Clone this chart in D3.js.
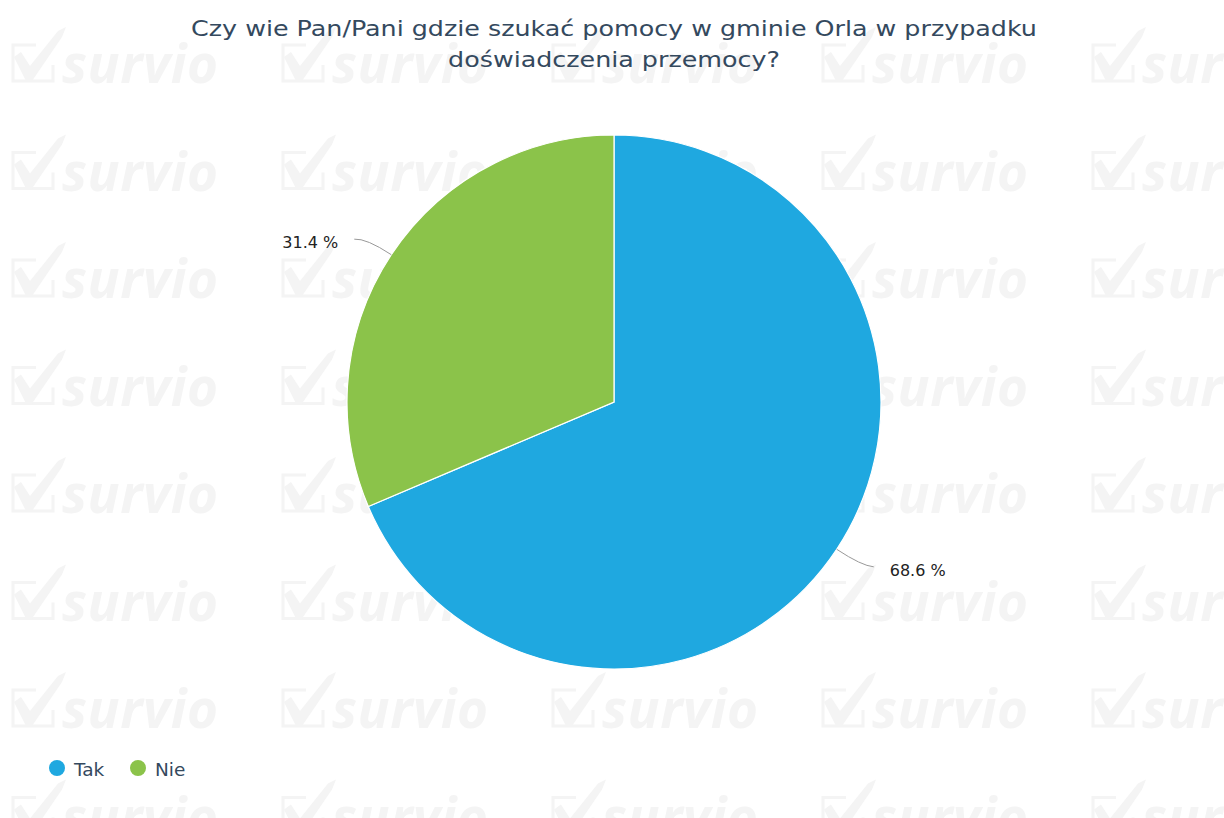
<!DOCTYPE html>
<html lang="pl">
<head>
    <meta charset="UTF-8">
    <title>Pie chart</title>
    <script src="https://d3js.org/d3.v7.min.js"></script>
    <style>
        body { margin: 0; background: #fff; }
        text { font-family: "DejaVu Sans", sans-serif; }
        .title { font-size: 21.5px; fill: #34495e; }
        .label { font-size: 16px; fill: #222; }
        .legend { font-size: 18.5px; fill: #34495e; }
        .mark { fill: #f4f4f4; font-family: "Open Sans", sans-serif; font-size: 53px; font-weight: bold; font-style: italic; }
    </style>
</head>
<body>
    <svg width="1224" height="818"></svg>
    <script>
        const categories = ["Tak", "Nie"];
        const values = [68.6, 31.4];
        const colors = ["#1fa8e0", "#8bc34a"];
        const titleLines = ["Czy wie Pan/Pani gdzie szukać pomocy w gminie Orla w przypadku",
                            "doświadczenia przemocy?"];

        const svg = d3.select("svg"),
              width = +svg.attr("width"),
              height = +svg.attr("height");

        // watermark grid
        const wm = svg.append("g");
        const cols = d3.range(10, width, 270),
              rows = d3.range(83, height + 60, 107.5);
        rows.forEach(y => cols.forEach(x => {
            const g = wm.append("g").attr("transform", `translate(${x},${y})`);
            g.append("path")
             .attr("d", "M26,-38 H3 V-2 H43 V-18")
             .attr("fill", "none").attr("stroke", "#f4f4f4").attr("stroke-width", 3);
            g.append("path")
             .attr("d", "M4,-26 L11,-31 L20,-17 L48,-52 L56,-56 L52,-46 L22,-2 L16,-2 Z")
             .attr("fill", "#f4f4f4");
            g.append("text").attr("class", "mark").attr("x", 52).attr("y", 0)
             .attr("textLength", 156).text("survio");
        }));

        // title (glyphs a bit wider than DejaVu, so stretch horizontally)
        svg.append("text").attr("class", "title")
           .attr("text-anchor", "middle")
           .attr("transform", "translate(614,0) scale(1.18,1)")
           .selectAll("tspan").data(titleLines).join("tspan")
           .attr("x", 0).attr("y", (d, i) => 36 + i * 31)
           .text(d => d);

        // pie
        const cx = 614, cy = 402, r = 267;
        const pie = d3.pie().sort(null).value(d => d)(values);
        const arc = d3.arc().innerRadius(0).outerRadius(r);
        const g = svg.append("g").attr("transform", `translate(${cx},${cy})`);

        g.selectAll("path.slice").data(pie).join("path")
         .attr("class", "slice")
         .attr("d", arc)
         .attr("fill", (d, i) => colors[i])
         .attr("stroke", "#fff").attr("stroke-width", 1.2);

        // labels with connectors
        pie.forEach((d, i) => {
            const a = (d.startAngle + d.endAngle) / 2;
            const sx = Math.sin(a), sy = -Math.cos(a);
            const right = sx > 0 ? 1 : -1;
            const p0 = [r * sx, r * sy],
                  p1 = [(r + 30) * sx, (r + 30) * sy],
                  p2 = [p1[0] + right * 12, p1[1] + 1];
            g.append("path")
             .attr("d", `M${p0}Q${p1} ${p2}`)
             .attr("fill", "none").attr("stroke", "#999").attr("stroke-width", 1);
            g.append("text").attr("class", "label")
             .attr("x", p2[0] + right * 16).attr("y", p2[1] + 9)
             .attr("text-anchor", right > 0 ? "start" : "end")
             .text(values[i].toFixed(1) + " %");
        });

        // legend
        const leg = svg.append("g").attr("transform", "translate(57,768)");
        const items = leg.selectAll("g").data(categories).join("g")
            .attr("transform", (d, i) => `translate(${i * 81},0)`);
        items.append("circle").attr("r", 8).attr("fill", (d, i) => colors[i]);
        items.append("text").attr("class", "legend").attr("x", 17).attr("y", 8).text(d => d);
    </script>
</body>
</html>
